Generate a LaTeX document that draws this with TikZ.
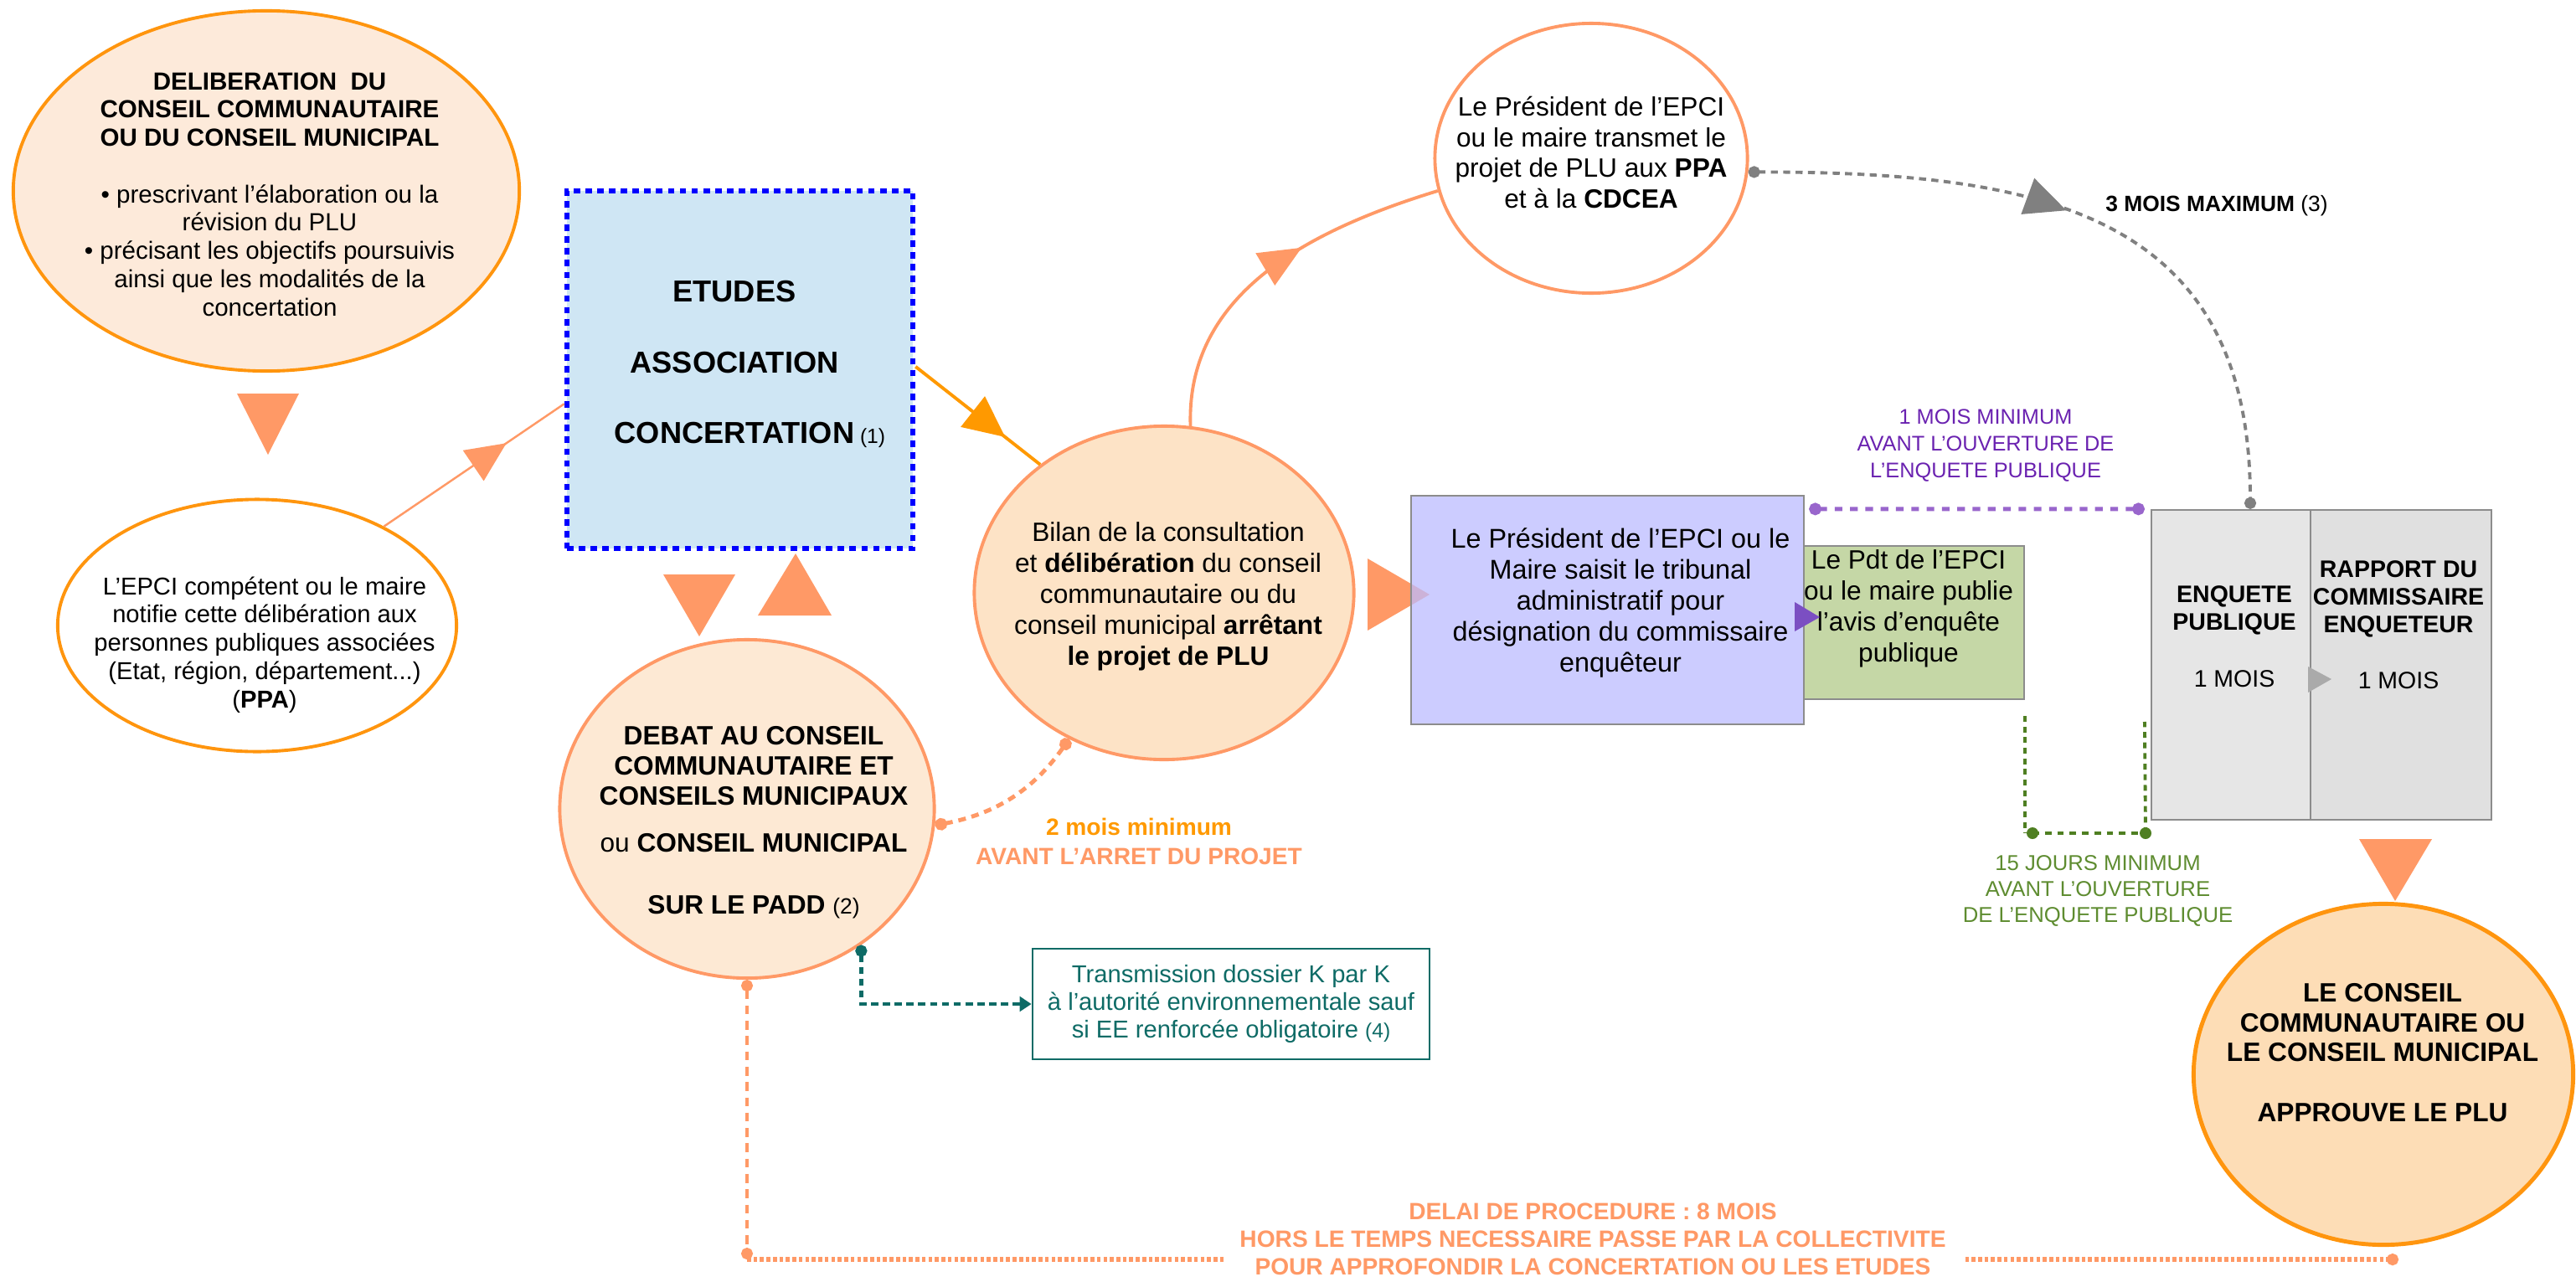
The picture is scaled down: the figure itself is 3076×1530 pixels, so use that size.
\documentclass[tikz,border=0pt]{standalone}
\usepackage{fontspec}
\setmainfont{Liberation Sans}
\usetikzlibrary{shapes.geometric,arrows.meta,decorations.markings}
\definecolor{orA}{HTML}{FF950E}
\definecolor{orB}{HTML}{FF9900}
\definecolor{salm}{HTML}{FF9966}
\definecolor{pA}{HTML}{FDEADA}
\definecolor{pJ}{HTML}{FDE9D4}
\definecolor{pD}{HTML}{FDE3C6}
\definecolor{pI}{HTML}{FDDDB6}
\definecolor{bluefill}{HTML}{CFE6F4}
\definecolor{lav}{HTML}{BBBBFF}
\definecolor{grn}{HTML}{C5D7A6}
\definecolor{gboxA}{HTML}{E6E6E6}
\definecolor{gboxB}{HTML}{E0E0E0}
\definecolor{gedge}{HTML}{8C8C8C}
\definecolor{tealc}{HTML}{0E6B66}
\definecolor{purt}{HTML}{6A22B0}
\definecolor{purl}{HTML}{9966CC}
\definecolor{purtri}{HTML}{7B4FC2}
\definecolor{grt}{HTML}{5E8C30}
\definecolor{grl}{HTML}{4F7F22}
\definecolor{gcurve}{HTML}{808080}
\definecolor{gtri}{HTML}{AAAAAA}
\newcommand\fsz[2]{\fontsize{#1}{#2}\selectfont}
\begin{document}
\begin{tikzpicture}[x=0.01cm,y=-0.01cm,
  oval/.style={ellipse, inner sep=0pt, line width=1.1pt},
  boxn/.style={rectangle, inner sep=0pt},
  txt/.style={align=center, inner sep=0pt},
  midarrow/.style args={#1/#2/#3}{postaction={decorate,decoration={markings,mark=at position #1 with {\arrow{Triangle[length=#2,width=#3]}}}}},
]
\useasboundingbox (0,0) rectangle (3076,1530);

% arrowhead under the lavender box
\fill[salm] (1633,667) -- (1633,753) -- (1707,710) -- cycle;

% ---- shapes ----
\node[oval, draw=orA, fill=pA, minimum width=6.04cm, minimum height=4.30cm] (delib) at (318,228) {};
\node[oval, draw=orA, fill=white, minimum width=4.76cm, minimum height=3.01cm] (epci) at (307,747) {};
\node[boxn, fill=bluefill, draw=blue, line width=1.8pt, dash pattern=on 2.2pt off 1.8pt, minimum width=4.13cm, minimum height=4.27cm] (etudes) at (883.5,441.5) {};
\node[oval, draw=salm, fill=pD, minimum width=4.53cm, minimum height=3.98cm] (bilan) at (1390,708) {};
\node[oval, draw=salm, fill=white, minimum width=3.73cm, minimum height=3.22cm] (pres) at (1900,189) {};
\node[boxn, fill=lav, fill opacity=0.75, draw=gedge, line width=0.6pt, minimum width=4.69cm, minimum height=2.73cm] (ti) at (1919.5,728.5) {};
\node[boxn, fill=grn, draw=gedge, line width=0.6pt, minimum width=2.63cm, minimum height=1.83cm] (pub) at (2285.5,743.5) {};
\node[boxn, fill=gboxA, draw=gedge, line width=0.6pt, minimum width=1.90cm, minimum height=3.70cm] (enq) at (2664,794) {};
\node[boxn, fill=gboxB, draw=gedge, line width=0.6pt, minimum width=2.16cm, minimum height=3.70cm] (rapp) at (2867,794) {};
\node[oval, draw=orA, line width=1.4pt, fill=pI, minimum width=4.53cm, minimum height=4.07cm] (appr) at (2846,1283) {};
\node[oval, draw=salm, fill=pJ, minimum width=4.47cm, minimum height=4.04cm] (debat) at (892,966) {};
\node[boxn, draw=tealc, line width=0.7pt, text=tealc, align=center, font=\fsz{8.3pt}{9.4pt}, minimum width=4.74cm, minimum height=1.32cm] (trans) at (1470,1199) {Transmission dossier K par K\\à l’autorité environnementale sauf\\si EE renforcée obligatoire {\fsz{7pt}{7pt}(4)}};

% ---- texts in shapes ----
\node[txt, font=\fsz{8.4pt}{9.6pt}] (delibT) at (322,232) {\textbf{DELIBERATION~~DU}\\\textbf{CONSEIL COMMUNAUTAIRE}\\\textbf{OU DU CONSEIL MUNICIPAL}\\[9.6pt]• prescrivant l’élaboration ou la\\révision du PLU\\• précisant les objectifs poursuivis\\ainsi que les modalités de la\\concertation};
\node[txt, font=\fsz{8.3pt}{9.6pt}] (epciT) at (316,770) {L’EPCI compétent ou le maire\\notifie cette délibération aux\\personnes publiques associées\\(Etat, région, département...)\\(\textbf{PPA})};
\node[txt, font=\fsz{10.3pt}{24pt}\bfseries] (etudesT) at (877,435) {ETUDES\\ASSOCIATION\\CONCERTATION\rlap{\mdseries\fsz{7pt}{7pt} (1)}};
\node[txt, font=\fsz{9pt}{10.5pt}] (bilanT) at (1395,712) {Bilan de la consultation\\et \textbf{délibération} du conseil\\communautaire ou du\\conseil municipal \textbf{arrêtant}\\\textbf{le projet de PLU}};
\node[txt, font=\fsz{9pt}{10.5pt}] (presT) at (1900,182) {Le Président de l’EPCI\\ou le maire transmet le\\projet de PLU aux \textbf{PPA}\\et à la \textbf{CDCEA}};
\node[txt, font=\fsz{9.2pt}{10.5pt}] (tiT) at (1935,720) {Le Président de l’EPCI ou le\\Maire saisit le tribunal\\administratif pour\\désignation du commissaire\\enquêteur};
\node[txt, font=\fsz{9pt}{10.5pt}] (pubT) at (2279,727) {Le Pdt de l’EPCI\\ou le maire publie\\l’avis d’enquête\\publique};
\node[txt, font=\fsz{8.1pt}{9.6pt}] (enqT) at (2668,760) {\textbf{ENQUETE}\\\textbf{PUBLIQUE}\\[9.6pt]1 MOIS};
\node[txt, font=\fsz{8.1pt}{9.5pt}] (rappT) at (2864,746) {\textbf{RAPPORT DU}\\\textbf{COMMISSAIRE}\\\textbf{ENQUETEUR}\\[9.5pt]1 MOIS};
\node[txt, font=\fsz{9pt}{10.2pt}\bfseries] (apprT) at (2845,1257) {LE CONSEIL\\COMMUNAUTAIRE OU\\LE CONSEIL MUNICIPAL\\[10.2pt]APPROUVE LE PLU};
\node[txt, font=\fsz{9pt}{10.2pt}] (debatT) at (900,982) {\textbf{DEBAT AU CONSEIL}\\\textbf{COMMUNAUTAIRE ET}\\\textbf{CONSEILS MUNICIPAUX}\\[5.7pt]ou \textbf{CONSEIL MUNICIPAL}\\[10.8pt]\textbf{SUR LE PADD} {\fsz{7.5pt}{7.5pt}(2)}};

% ---- standalone arrowheads ----
\fill[salm] (283,470) -- (357,470) -- (320,543) -- cycle;
\fill[salm] (792,686) -- (878,686) -- (835,760) -- cycle;
\fill[salm] (905,735) -- (993,735) -- (950,661) -- cycle;
\fill[salm] (2817,1002) -- (2904,1002) -- (2860,1076) -- cycle;
\fill[purtri] (2143,719) -- (2143,754) -- (2173,737) -- cycle;
\fill[gtri] (2756,796) -- (2756,827) -- (2784,811) -- cycle;

% ---- connectors ----
\draw[salm, line width=0.7pt, midarrow={0.68/13.6pt/12.4pt}] (epci.38) -- (etudes.191);
\draw[orB, line width=1.1pt, midarrow={0.72/14pt/13pt}] (etudes.1) -- (bilan.134);
\draw[salm, line width=1.1pt, midarrow={0.6/14.4pt/12.5pt}] (bilan.81) to[out=92, in=197] (pres.192);
\draw[gcurve, line width=1.1pt, dash pattern=on 2.4pt off 1.8pt, {Circle[length=4pt]}-{Circle[length=4pt]}, midarrow={0.46/14pt/12.8pt}] (pres.-5) to[out=0, in=90, looseness=1.25] ([xshift=0.23cm]enq.north);
\draw[purl, line width=1.4pt, dash pattern=on 2.6pt off 2.6pt, {Circle[length=4.2pt]}-{Circle[length=4.2pt]}] ([xshift=0.05cm,yshift=-0.17cm]ti.north east) -- ([xshift=-0.07cm]enq.north west);

\coordinate (g1) at ([yshift=-0.19cm]pub.south east);
\coordinate (g4) at ([xshift=-0.07cm,yshift=-2.54cm]enq.north west);
\coordinate (g2) at (2427,995);
\coordinate (g3) at (2562,995);
\draw[grl, line width=1.1pt, dash pattern=on 2pt off 1.6pt] (g1) -- (g1 |- g2);
\draw[grl, line width=1.3pt, dash pattern=on 2.2pt off 2pt] (g2) -- (g3);
\draw[grl, line width=1.1pt, dash pattern=on 2pt off 1.6pt] (g3) -- (g4);
\fill[grl] (g2) circle (7);
\fill[grl] (g3) circle (7);

\draw[tealc, line width=1.2pt, dash pattern=on 2.5pt off 1.5pt, {Circle[length=4pt]}-{Triangle[length=4pt,width=5pt]}] (debat.-50) |- (trans.west);
\draw[salm, line width=1.4pt, dash pattern=on 2.6pt off 2pt, {Circle[length=4.2pt]}-{Circle[length=4.2pt]}] (debat.-5) to[bend right=22] (bilan.237);

\coordinate (endB) at ([xshift=0.18cm,yshift=-0.15cm]appr.south);
\draw[salm, line width=0.9pt, dash pattern=on 3pt off 2.2pt, {Circle[length=4pt]}-{Circle[length=4pt]}] (debat.south) -- (debat.south |- endB);
\draw[salm, line width=1.5pt, dash pattern=on 1.3pt off 0.9pt, -{Circle[length=4pt]}] (debat.south |- endB) -- (endB);

% ---- labels ----
\node[txt, text=purt, font=\fsz{7.2pt}{9pt}] (lblP) at (2371,532) {1 MOIS MINIMUM\\AVANT L’OUVERTURE DE\\L’ENQUETE PUBLIQUE};
\node[txt, text=grt, font=\fsz{7.3pt}{8.8pt}] (lblG) at (2505,1064) {15 JOURS MINIMUM\\AVANT L’OUVERTURE\\DE L’ENQUETE PUBLIQUE};
\node[txt, font=\fsz{8pt}{9.9pt}\bfseries] (lbl2) at (1360,1005) {\textcolor{orB}{2 mois minimum}\\\textcolor{salm}{AVANT L’ARRET DU PROJET}};
\node[txt, font=\fsz{7.5pt}{9pt}] (lbl3) at (2647,246) {\textbf{3 MOIS MAXIMUM} (3)};
\node[txt, fill=white, inner xsep=5.5pt, inner ysep=1pt, text=salm, font=\fsz{8pt}{9.4pt}\bfseries] (lblB) at (1902,1480) {DELAI DE PROCEDURE : 8 MOIS\\HORS LE TEMPS NECESSAIRE PASSE PAR LA COLLECTIVITE\\POUR APPROFONDIR LA CONCERTATION OU LES ETUDES};
\end{tikzpicture}
\end{document}
